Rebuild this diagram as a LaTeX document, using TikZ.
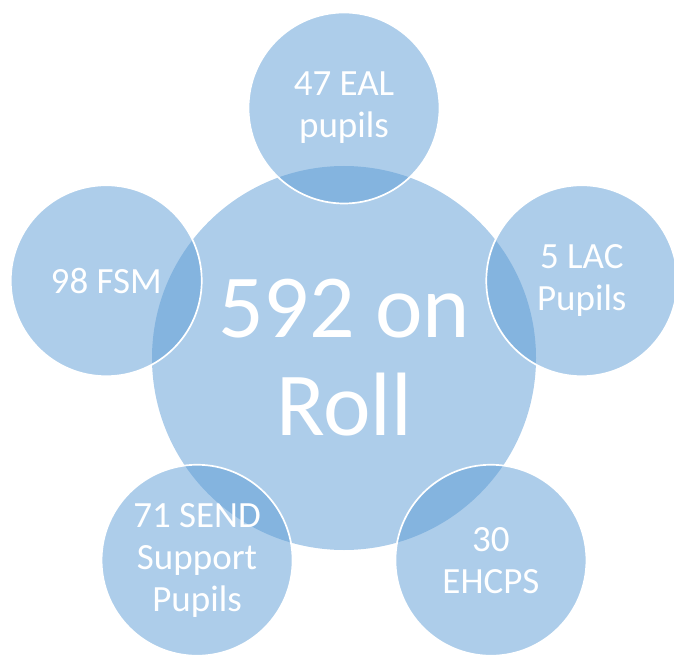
\documentclass[tikz,border=0pt]{standalone}
\usepackage{fontspec}
\setmainfont{Carlito}
\usetikzlibrary{calc}
\definecolor{accent}{HTML}{5B9BD5}
\tikzset{
  bigcircle/.style={circle, inner sep=0pt, outer sep=0pt, minimum size=384pt, fill=accent, fill opacity=0.5},
  satcircle/.style={circle, inner sep=0pt, outer sep=0pt, minimum size=191pt, fill=accent, fill opacity=0.5, draw=white, draw opacity=1, line width=1.7pt},
  sattext/.style={text=white, align=center, inner sep=0pt, font=\fontsize{37}{42}\selectfont},
  bigtext/.style={text=white, align=center, inner sep=0pt, font=\fontsize{90}{98}\selectfont}
}
\begin{document}
\begin{tikzpicture}[x=1pt,y=1pt]
\useasboundingbox (0,0) rectangle (674,654);
\node[bigcircle] (roll) at (344,296) {};
\node[satcircle] (eal) at ($(roll)+(90:250)$) {};
\node[satcircle] (lac) at ($(roll)+(18:250)$) {};
\node[satcircle] (ehc) at ($(roll)+(-54:250)$) {};
\node[satcircle] (send) at ($(roll)+(234:250)$) {};
\node[satcircle] (fsm) at ($(roll)+(162:250)$) {};
\node[bigtext] (rolltxt) at (roll) {592 on\\Roll};
\node[sattext] (ealtxt) at (eal) {47 EAL\\pupils};
\node[sattext] (lactxt) at (lac) {5 LAC\\Pupils};
\node[sattext] (ehctxt) at (ehc) {30\\EHCPS};
\node[sattext] (sendtxt) at (send) {71 SEND\\Support\\Pupils};
\node[sattext] (fsmtxt) at (fsm) {98 FSM};
\end{tikzpicture}
\end{document}
